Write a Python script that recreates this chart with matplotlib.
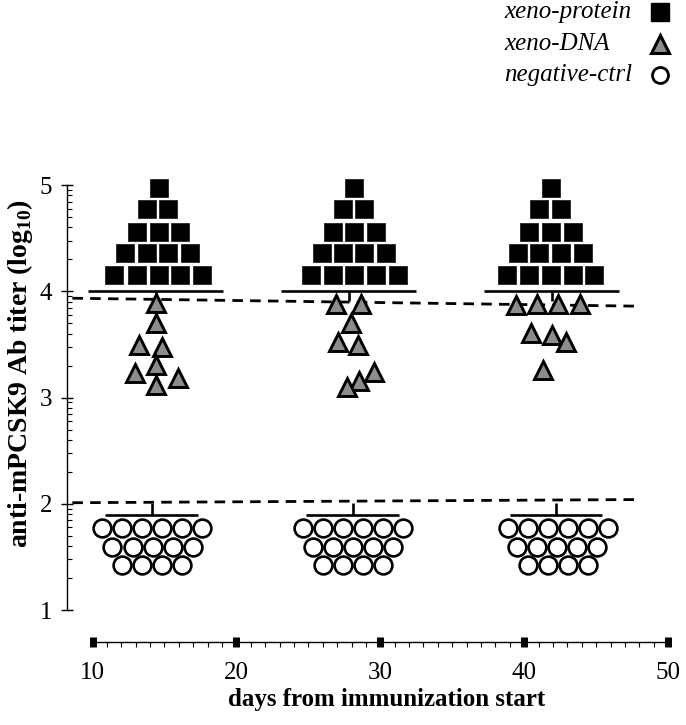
import matplotlib
matplotlib.use("Agg")
import matplotlib.pyplot as plt
from matplotlib.lines import Line2D
from matplotlib.ticker import FixedLocator
import numpy as np

plt.rcParams['font.family'] = ['Liberation Serif', 'DejaVu Serif']
plt.rcParams['mathtext.fontset'] = 'custom'
plt.rcParams['mathtext.rm'] = 'Liberation Serif'
plt.rcParams['mathtext.bf'] = 'Liberation Serif:bold'

# data (days, log10 titer)

# xeno-protein (all at / above the upper limit, stacked)
prot_x = [
    [11.46, 13.06, 14.59, 16.05, 17.58, 12.26, 13.79, 15.25, 16.78, 13.06, 14.59, 16.05, 13.79, 15.25, 14.59],
    [25.15, 26.68, 28.14, 29.67, 31.20, 25.92, 27.44, 28.90, 30.43, 26.68, 28.14, 29.67, 27.44, 28.90, 28.14],
    [38.81, 40.30, 41.83, 43.36, 44.82, 39.57, 41.03, 42.56, 44.09, 40.30, 41.83, 43.36, 41.03, 42.56, 41.83],
]
prot_y = [4.15] * 5 + [4.36] * 4 + [4.56] * 3 + [4.77] * 2 + [4.97]

# xeno-DNA
dna_x = [
    [14.38, 14.38, 13.20, 14.86, 14.38, 12.92, 14.38, 15.91],
    [26.89, 28.63, 27.93, 27.03, 28.42, 29.53, 28.49, 27.72],
    [39.46, 40.92, 42.38, 43.91, 40.44, 41.90, 42.87, 41.34],
]
dna_y = [
    [3.89, 3.70, 3.49, 3.48, 3.31, 3.23, 3.12, 3.18],
    [3.88, 3.88, 3.70, 3.52, 3.49, 3.24, 3.16, 3.10],
    [3.87, 3.88, 3.88, 3.88, 3.61, 3.59, 3.52, 3.26],
]

# negative-ctrl (below detection, stacked)
ctrl_x = [
    [10.69, 12.08, 13.47, 14.86, 16.25, 17.64, 11.38, 12.78, 14.17, 15.56, 16.95, 12.08, 13.47, 14.86, 16.25],
    [24.63, 26.02, 27.41, 28.80, 30.19, 31.58, 25.32, 26.71, 28.10, 29.49, 30.88, 26.02, 27.41, 28.80, 30.19],
    [38.84, 40.23, 41.62, 43.01, 44.40, 45.79, 39.53, 40.92, 42.31, 43.70, 45.09, 40.23, 41.62, 43.01, 44.40],
]
ctrl_y = [1.77] * 6 + [1.59] * 5 + [1.42] * 4

# group means and error bars
top_day = [14.38, 27.80, 41.90]
top_mean = [4.0, 4.0, 4.0]
top_err = [0.09, 0.09, 0.09]
low_day = [14.10, 28.07, 42.20]
low_mean = [1.89, 1.89, 1.89]
low_err = [0.12, 0.12, 0.12]

# fitted trend lines
trend_x = [8.6, 47.9]
trend_hi = [3.935, 3.86]
trend_lo = [2.01, 2.04]

labels = ['xeno-protein', 'xeno-DNA', 'negative-ctrl']

fig = plt.figure(figsize=(6.86, 7.25), dpi=100)
ax = fig.add_axes([0.0971, 0.1146, 0.8873, 0.6448])
ax.set_xlim(8.2, 50.5)
ax.set_ylim(0.7, 5.1)

# trend lines
ax.plot(trend_x, trend_hi, color='k', lw=2.0, dashes=(3.8, 2.6), zorder=1)
ax.plot(trend_x, trend_lo, color='k', lw=2.0, dashes=(3.8, 2.6), zorder=1)

# mean bars + error stems
for d, m, e in zip(top_day, top_mean, top_err):
    ax.hlines(m, d - 4.67, d + 4.67, color='k', lw=1.9, zorder=2)
    ax.vlines(d, m - e, m, color='k', lw=1.9, zorder=2)
for d, m, e in zip(low_day, low_mean, low_err):
    ax.hlines(m, d - 3.2, d + 3.2, color='k', lw=1.9, zorder=2)
    ax.vlines(d, m, m + e, color='k', lw=1.9, zorder=2)

for i in range(3):
    ax.plot(prot_x[i], prot_y, ls='none', marker='s', ms=13.4, mfc='k', mec='#222222', mew=0.6, zorder=4)
    ax.plot(dna_x[i], dna_y[i], ls='none', marker='^', ms=13.2, mfc='#8c8c8c', mec='k', mew=2.1, zorder=3)
    ax.plot(ctrl_x[i], ctrl_y, ls='none', marker='o', ms=12.8, mfc='white', mec='k', mew=1.9, zorder=3)

# axes styling
for s in ['top', 'right']:
    ax.spines[s].set_visible(False)
ax.spines['left'].set_bounds(1, 5)
ax.spines['bottom'].set_bounds(10, 50)
ax.spines['left'].set_linewidth(1.0)
ax.spines['bottom'].set_linewidth(1.0)

ax.set_xticks([10, 20, 30, 40, 50])
ax.xaxis.set_minor_locator(FixedLocator(np.arange(10, 51, 1)))
ax.tick_params(axis='x', which='major', direction='inout', length=6.5, width=5, pad=11, labelsize=18)
ax.tick_params(axis='x', which='minor', direction='out', length=3.5, width=0.8)

ax.set_yticks([1, 2, 3, 4, 5])
yminor = [d + np.log10(k) for d in range(1, 5) for k in range(2, 10)]
ax.yaxis.set_minor_locator(FixedLocator(yminor))
ax.tick_params(axis='y', which='major', direction='inout', length=9, width=1.0, pad=6, labelsize=18)
ax.tick_params(axis='y', which='minor', direction='in', length=3.5, width=0.8)

ax.set_xlabel('days from immunization start', fontsize=18, fontweight='bold')
ax.xaxis.set_label_coords(0.525, -0.098)
ax.set_ylabel(r'anti-mPCSK9 Ab titer (log$_{\mathbf{10}}$)', fontsize=20, fontweight='bold')
ax.yaxis.set_label_coords(-0.052, 0.575)

# legend: text left-aligned, marker to the right
handles = [
    dict(marker='s', ms=13, mfc='k', mec='k', mew=1),
    dict(marker='^', ms=12.5, mfc='#8c8c8c', mec='k', mew=2.2),
    dict(marker='o', ms=11.5, mfc='white', mec='k', mew=2.0),
]
row_y = [12, 44, 75]
for lab, h, ry in zip(labels, handles, row_y):
    yf = 1 - ry / 725
    fig.text(504 / 686, yf, lab, fontsize=18, style='italic', ha='left', va='center')
    fig.add_artist(Line2D([660 / 686], [yf], ls='none', transform=fig.transFigure, **h))

fig.savefig('out.png', dpi=100)
